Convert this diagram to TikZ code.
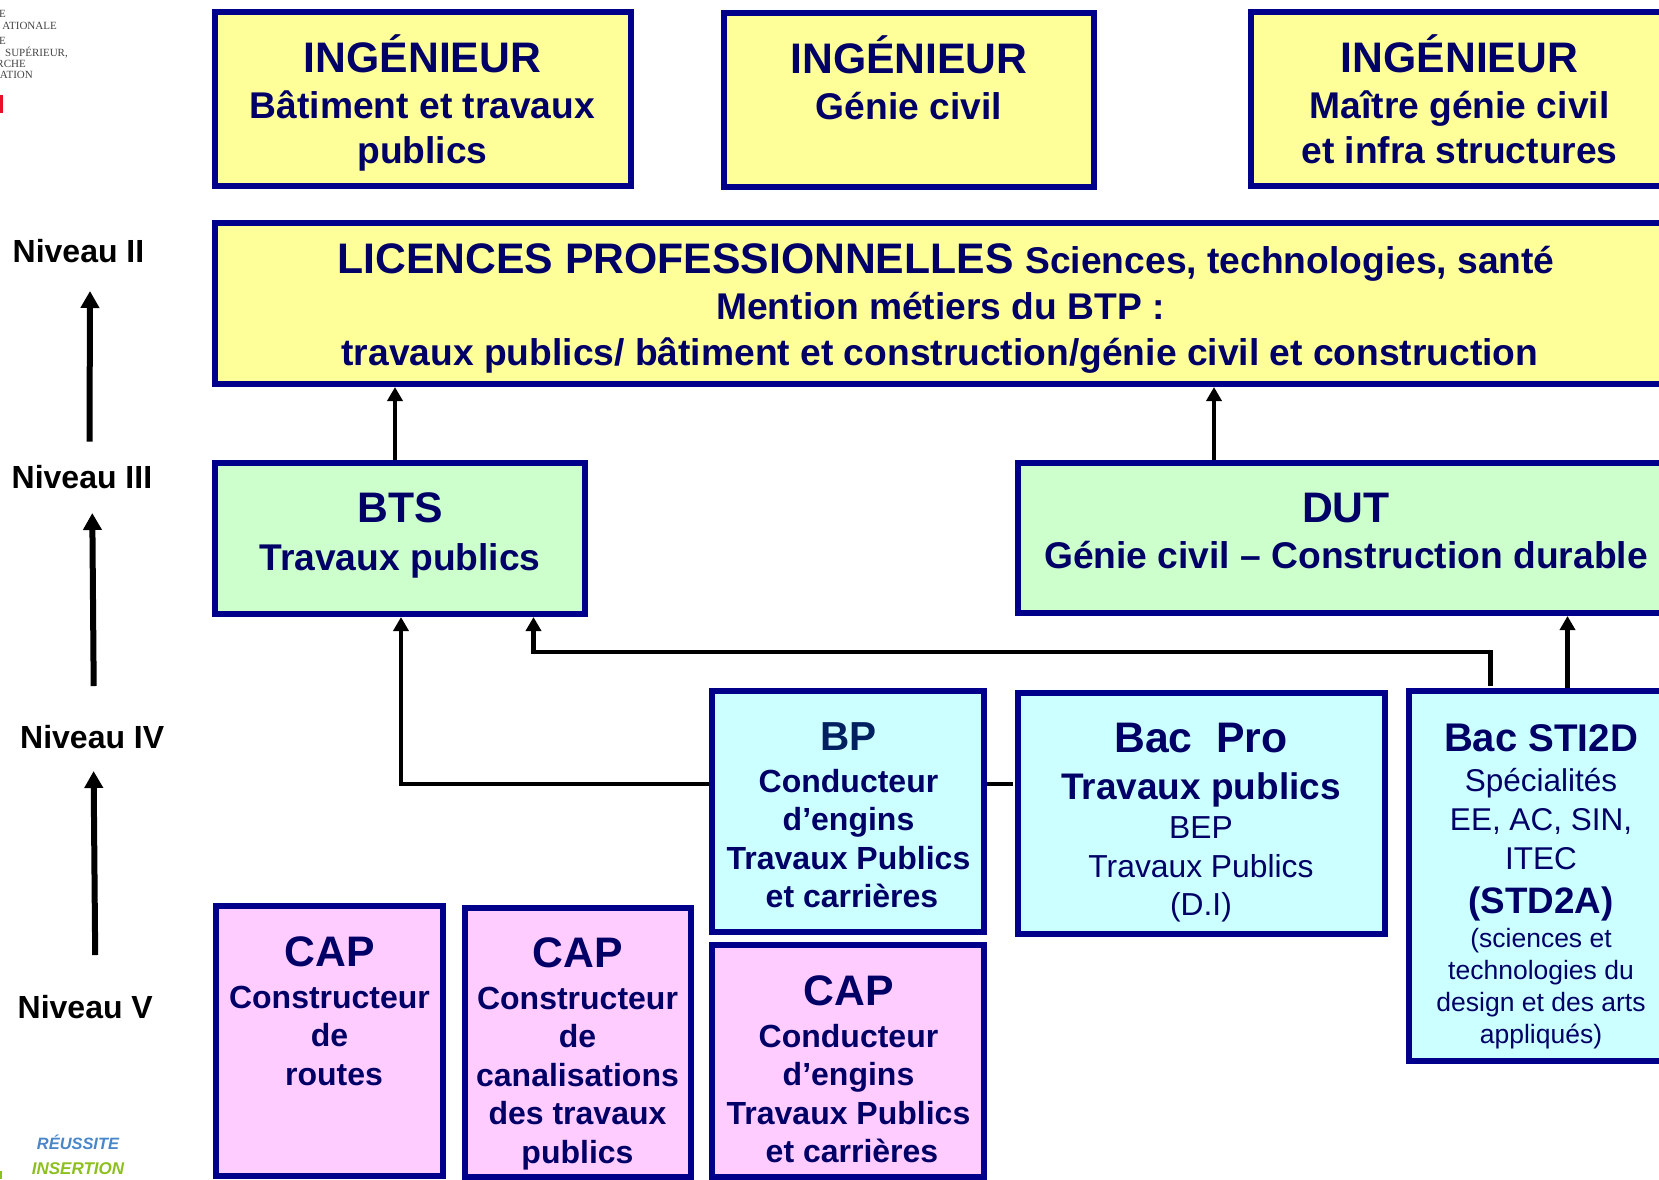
\documentclass[tikz,border=0pt]{standalone}
\usepackage{fontspec}
\setmainfont{Liberation Sans}
\newfontfamily\lserif{Liberation Serif}
\usetikzlibrary{arrows.meta,calc}
\definecolor{bordercol}{HTML}{00008B}
\definecolor{textcol}{HTML}{000066}
\definecolor{bpcol}{HTML}{002060}
\definecolor{yellowfill}{HTML}{FFFF99}
\definecolor{greenfill}{HTML}{CCFFCC}
\definecolor{cyanfill}{HTML}{CCFFFF}
\definecolor{pinkfill}{HTML}{FFCCFF}
\definecolor{logoblue}{HTML}{4A86C8}
\definecolor{logogreen}{HTML}{8DBF1E}
\definecolor{logogray}{HTML}{444444}
\definecolor{logored}{HTML}{E8102A}
\newcommand{\fsz}[1]{\fontsize{#1}{#1}\selectfont}
\newdimen\boxtopd \newdimen\boxmidd \newdimen\boxwd
% one text line of a box: absolute baseline y, absolute centre x, font, text
\newcommand{\Ln}[4]{\nointerlineskip\vbox to 0pt{\kern\dimexpr #1pt-\boxtopd\relax
  \hbox to \boxwd{\hss\kern\dimexpr 2\dimexpr #2pt-\boxmidd\relax\relax\smash{\color{textcol}#3#4}\hss}\vss}}
\newcommand{\Bx}[7]{%
  \boxtopd=#4pt \boxwd=\dimexpr #5pt-#3pt\relax
  \boxmidd=\dimexpr (#3pt+#5pt)/2\relax
  \node[boxn,fill=#2,minimum width=\boxwd,minimum height=\dimexpr #6pt-#4pt\relax] (#1) at ({(#3+#5)/2},{(#4+#6)/2})
    {\vbox to \dimexpr #6pt-#4pt\relax{\offinterlineskip #7\vss}};}
\tikzset{
  boxn/.style={draw=bordercol,line width=6pt,inner sep=0pt,outer sep=3pt,rectangle},
  conn/.style={draw=black,line width=4.5pt,-{Triangle[width=15pt,length=14pt]}},
  linkn/.style={draw=black,line width=4.5pt},
  lvlarrow/.style={draw=black,line width=6pt,-{Triangle[width=18pt,length=17pt]}},
  lvl/.style={anchor=base west,inner sep=0pt,font=\bfseries\fsz{32}},
  logot/.style={anchor=base east,inner sep=0pt,text=logogray,font=\lserif\fsz{11}},
}
\begin{document}
\begin{tikzpicture}[x=1pt,y=-1pt]
\clip (0,0) rectangle (1659,1179);
\def\big{\bfseries\fsz{42.7}}
\def\mid{\bfseries\fsz{37.2}}
\def\sm{\bfseries\fsz{32}}
\def\rg{\fsz{31.5}}
% Ingenieurs
\Bx{ing1}{yellowfill}{214.5}{11.5}{630.5}{185.5}{%
  \Ln{72}{422.5}{\big}{INGÉNIEUR}\Ln{118}{422.5}{\mid}{Bâtiment et travaux}\Ln{163}{422.5}{\mid}{publics}}
\Bx{ing2}{yellowfill}{723.5}{13}{1093.5}{187}{%
  \Ln{73.5}{909}{\big}{INGÉNIEUR}\Ln{119.5}{909}{\mid}{Génie civil}}
\Bx{ing3}{yellowfill}{1251}{11.5}{1668}{185.5}{%
  \Ln{72}{1459.5}{\big}{INGÉNIEUR}\Ln{118}{1459.5}{\mid}{Maître génie civil}\Ln{163}{1459.5}{\mid}{et infra structures}}
% Licence
\Bx{lic}{yellowfill}{214.5}{222.5}{1666}{384}{%
  \Ln{273.5}{946}{\big}{LICENCES PROFESSIONNELLES {\mid Sciences, technologies, santé}}%
  \Ln{319.5}{940.5}{\mid}{Mention métiers du BTP :}%
  \Ln{365}{940}{\mid}{travaux publics/ bâtiment et construction/génie civil et construction}}
% BTS / DUT
\Bx{bts}{greenfill}{214.5}{462.5}{585}{614}{%
  \Ln{522}{400}{\big}{BTS}\Ln{570}{400}{\mid}{Travaux publics}}
\Bx{dut}{greenfill}{1017.5}{462.5}{1674}{613}{%
  \Ln{522}{1346}{\big}{DUT}\Ln{568.5}{1346}{\mid}{Génie civil – Construction durable}}
% Niveau IV
\Bx{bp}{cyanfill}{712}{691}{984}{932}{%
  \Ln{750}{848.5}{\color{bpcol}\bfseries\fsz{40.5}}{BP}\Ln{792.5}{848.5}{\sm}{Conducteur}%
  \Ln{830}{848.5}{\sm}{d’engins}\Ln{869}{848.5}{\sm}{Travaux Publics}\Ln{907}{852}{\sm}{et carrières}}
\Bx{bacpro}{cyanfill}{1017.5}{692.5}{1385}{934}{%
  \Ln{752.5}{1201}{\big}{Bac\ \ Pro}\Ln{799}{1201}{\bfseries\fsz{37}}{Travaux publics}%
  \Ln{838.5}{1201}{\fsz{31.8}}{BEP}\Ln{877}{1201}{\fsz{31.8}}{Travaux Publics}\Ln{915}{1201}{\fsz{31.8}}{(D.I)}}
\Bx{sti}{cyanfill}{1409}{690.5}{1673}{1061}{%
  \Ln{751}{1541}{\bfseries\fsz{40}}{Bac {\fsz{38.6}STI2D}}\Ln{791.5}{1541}{\rg}{Spécialités}%
  \Ln{830}{1541}{\rg}{EE, AC, SIN,}\Ln{869}{1541}{\rg}{ITEC}%
  \Ln{913.5}{1541}{\bfseries\fsz{36.8}}{(STD2A)}\Ln{947.5}{1541}{\fsz{26.5}}{(sciences et}%
  \Ln{979.5}{1541}{\fsz{26.5}}{technologies du}\Ln{1011.5}{1541}{\fsz{26.5}}{design et des arts}%
  \Ln{1043}{1541}{\fsz{26.5}}{appliqués)}}
% CAP
\Bx{cap1}{pinkfill}{216}{906}{443}{1176}{%
  \Ln{966}{329.5}{\big}{CAP}\Ln{1008}{329.5}{\sm}{Constructeur}\Ln{1046}{329.5}{\sm}{de}\Ln{1085}{334}{\sm}{routes}}
\Bx{cap2}{pinkfill}{464.5}{908}{691}{1177}{%
  \Ln{967}{578}{\big}{CAP}\Ln{1009}{577.5}{\sm}{Constructeur}\Ln{1047}{577.5}{\sm}{de}%
  \Ln{1086}{577.5}{\sm}{canalisations}\Ln{1124}{577.5}{\sm}{des travaux}\Ln{1163}{577.5}{\sm}{publics}}
\Bx{cap3}{pinkfill}{712}{945}{984}{1177}{%
  \Ln{1005}{848.5}{\big}{CAP}\Ln{1047}{848.5}{\sm}{Conducteur}\Ln{1085}{848.5}{\sm}{d’engins}%
  \Ln{1124}{848.5}{\sm}{Travaux Publics}\Ln{1162}{852}{\sm}{et carrières}}
% helper coordinates
\coordinate (xbts) at (395,462);
\coordinate (xdut) at (1214,462);
\coordinate (xsti) at (1567.5,650);
\coordinate (xret) at (1490.5,652);
\coordinate (xbk) at (533.5,652);
\coordinate (ybp) at (401,784);
% connectors
\draw[conn] (xbts |- bts.north) -- (xbts |- lic.south);
\draw[conn] (xdut |- dut.north) -- (xdut |- lic.south);
\draw[conn] (xsti |- sti.north) -- (xsti |- dut.south);
\draw[conn,shorten <=2pt] (xret |- sti.north) -- (xret) -- (xbk) -- (xbk |- bts.south);
\draw[conn] (bp.west |- ybp) -- (ybp) -- (ybp |- bts.south);
\draw[linkn,shorten >=2pt] (bp.east |- ybp) -- (bacpro.west |- ybp);
% levels
\node[lvl] (n2) at (12.5,262.5) {Niveau II};
\node[lvl] (n3) at (11.5,488) {Niveau III};
\node[lvl] (n4) at (20,748) {Niveau IV};
\node[lvl] (n5) at (17.5,1018) {Niveau V};
\coordinate (a1s) at (89.5,441.5); \coordinate (a1e) at (90,291);
\coordinate (a2s) at (93.7,686);   \coordinate (a2e) at (92.3,513);
\coordinate (a3s) at (95.2,955);   \coordinate (a3e) at (93.6,771);
\draw[lvlarrow] (a1s) -- (a1e);
\draw[lvlarrow] (a2s) -- (a2e);
\draw[lvlarrow] (a3s) -- (a3e);
% logos, cut by the picture's edge
\node[logot] (lg1) at (6,17) {E};
\node[logot] (lg2) at (57,29) {ATIONALE};
\node[logot] (lg3) at (6,44) {E};
\node[logot] (lg4) at (68,56) {SUPÉRIEUR,};
\node[logot] (lg5) at (26,67) {RCHE};
\node[logot] (lg6) at (33,78) {ATION};
\fill[logored] (0,95) rectangle (2.5,113);
\fill[logogreen] (0,1171) rectangle (2,1179);
\node[anchor=base,inner sep=0pt,text=logoblue,font=\bfseries\itshape\fsz{16.4}] (lg7) at (78,1149) {RÉUSSITE};
\node[anchor=base,inner sep=0pt,text=logogreen,font=\bfseries\itshape\fsz{17}] (lg8) at (78,1174) {INSERTION};
\end{tikzpicture}
\end{document}
